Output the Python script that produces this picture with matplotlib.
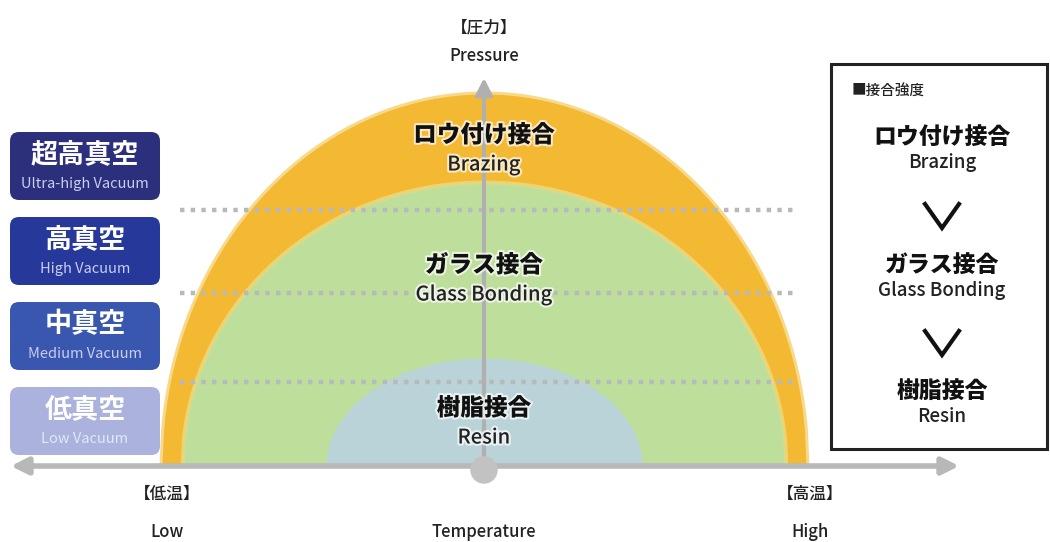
import numpy as np
import matplotlib.pyplot as plt
import matplotlib.patheffects as pe
from matplotlib.patches import FancyBboxPatch, Rectangle, Circle

plt.rcParams['font.family'] = ['Noto Sans CJK JP', 'DejaVu Sans']

# 接合領域 (外側から): 半幅, 高さ (ピクセル), 色
zone_names = ['ロウ付け接合', 'ガラス接合', '樹脂接合']
zone_en = ['Brazing', 'Glass Bonding', 'Resin']
zone_halfwidth = [322, 300, 158]
zone_height = [372, 282, 108]
zone_colors = ['#f3b933', '#bedf9b', '#b9d3d8']
zone_label_y = [135, 265, 408]

# 真空度
vac_jp = ['超高真空', '高真空', '中真空', '低真空']
vac_en = ['Ultra-high Vacuum', 'High Vacuum', 'Medium Vacuum', 'Low Vacuum']
vac_colors = ['#2c2f7c', '#26399a', '#3a57b0', '#aab2dd']
vac_en_colors = ['#c9cdef', '#c9cdef', '#c9cdef', '#e4e7f6']
vac_top = [130, 215, 300, 385]
level_lines = [210, 293, 382]

cx, cy = 484, 466

fig = plt.figure(figsize=(10.5, 5.42), dpi=100)
ax = fig.add_axes([0, 0, 1, 1])
ax.set_xlim(0, 1050)
ax.set_ylim(542, 0)
ax.axis('off')


def half_ellipse(w, h, c, z=1):
    x = np.linspace(cx - w, cx + w, 400)
    y = cy - h * np.sqrt(np.clip(1 - ((x - cx) / w) ** 2, 0, 1))
    ax.fill_between(x, y, cy, color=c, lw=0, zorder=z)


# 半楕円の領域 (境界を少しぼかす)
half_ellipse(zone_halfwidth[0] + 3, zone_height[0] + 3, '#f8d98a')
half_ellipse(zone_halfwidth[0], zone_height[0], zone_colors[0])
half_ellipse(zone_halfwidth[1] + 4, zone_height[1] + 4, '#f2d270')
half_ellipse(zone_halfwidth[1] + 2, zone_height[1] + 2, '#d9dc86')
half_ellipse(zone_halfwidth[1], zone_height[1], zone_colors[1])
half_ellipse(zone_halfwidth[2], zone_height[2], zone_colors[2])

# 点線
for ly in level_lines:
    ax.plot([180, 795], [ly, ly], color='#b9b9b9', lw=3.2, ls=(0, (1, 1.4)), zorder=2)

# 軸
ax.annotate('', xy=(962, cy), xytext=(8, cy),
            arrowprops=dict(arrowstyle='<|-|>,head_length=1.0,head_width=0.5',
                            color='#b8b8b8', lw=4), zorder=3)
ax.annotate('', xy=(cx, 75), xytext=(cx, cy),
            arrowprops=dict(arrowstyle='-|>,head_length=1.0,head_width=0.5',
                            color='#b0b0b0', lw=3), zorder=3)
ax.add_patch(Circle((cx, cy + 4), 13, color='#c2c2c2', zorder=3))

halo = [pe.withStroke(linewidth=3, foreground='white', alpha=0.7)]

# 領域ラベル
for jp, en, ly in zip(zone_names, zone_en, zone_label_y):
    ax.text(cx, ly, jp, ha='center', va='center', fontsize=17, fontweight='black',
            color='#111111', zorder=5, path_effects=halo)
    ax.text(cx, ly + 30, en, ha='center', va='center', fontsize=14.5, fontweight='medium',
            color='#222222', zorder=5, path_effects=halo)

# 真空度ボックス
for jp, en, c, ec, t in zip(vac_jp, vac_en, vac_colors, vac_en_colors, vac_top):
    ax.add_patch(FancyBboxPatch((10, t + 2), 150, 68,
                                boxstyle='round,pad=0,rounding_size=9',
                                fc=c, ec='none', zorder=4))
    ax.text(85, t + 24, jp, ha='center', va='center', fontsize=19.5,
            fontweight='bold', color='white', zorder=5)
    ax.text(85, t + 54, en, ha='center', va='center', fontsize=10.5,
            color=ec, zorder=5)

# 軸ラベル
lab = dict(ha='center', va='center', fontsize=12, fontweight='medium', color='#222222')
ax.text(cx, 27, '【圧力】', **lab)
ax.text(cx, 56, 'Pressure', **lab)
ax.text(167, 494, '【低温】', **lab)
ax.text(810, 494, '【高温】', **lab)
ax.text(167, 532, 'Low', **lab)
ax.text(cx, 532, 'Temperature', **lab)
ax.text(810, 532, 'High', **lab)

# 接合強度ボックス
ax.add_patch(Rectangle((831, 64), 216, 385, fc='white', ec='#222222', lw=2.2, zorder=4))
ax.text(852, 92, '■接合強度', ha='left', va='center', fontsize=10.5,
        fontweight='medium', color='#222222', zorder=5)
box_y = [137, 265, 392]
for jp, en, by in zip(zone_names, zone_en, box_y):
    ax.text(942, by, jp, ha='center', va='center', fontsize=16.5, fontweight='black',
            color='#111111', zorder=5)
    ax.text(942, by + 25, en, ha='center', va='center', fontsize=13.5,
            fontweight='medium', color='#222222', zorder=5)

# V 字の矢印
for vy in [204, 331]:
    ax.plot([925, 942, 959], [vy, vy + 24, vy], color='#111111', lw=3,
            solid_joinstyle='miter', zorder=5)

fig.savefig('out.png', dpi=100)
